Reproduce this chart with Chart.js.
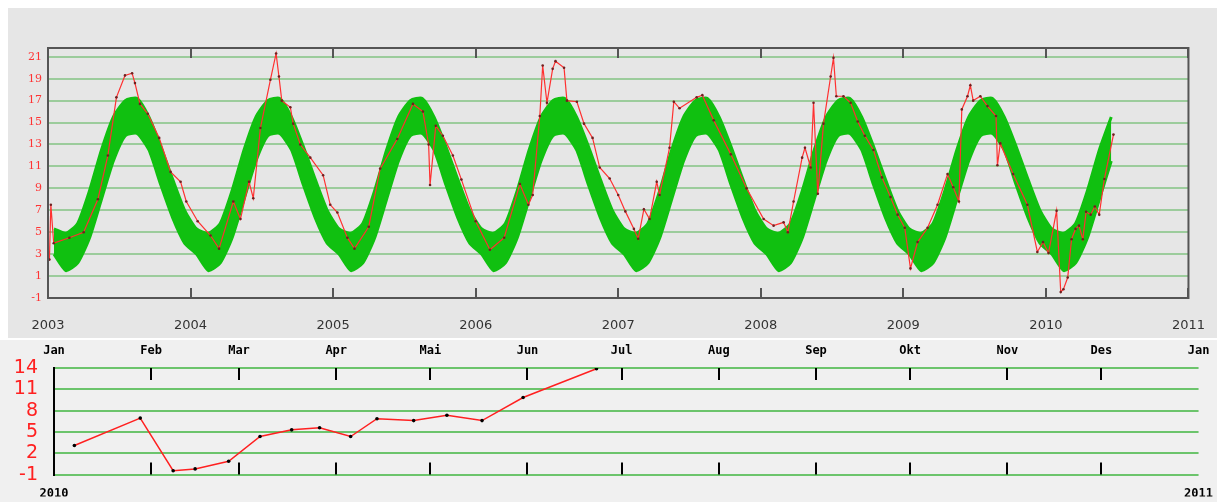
<!DOCTYPE html>
<html><head><meta charset="utf-8">
<script src="https://cdn.jsdelivr.net/npm/chart.js@4.4.0/dist/chart.umd.min.js"></script>
<style>
body{margin:0;background:#fff;width:1217px;height:502px;position:relative;overflow:hidden}
#w1{position:absolute;left:8px;top:8px;width:1209px;height:330px;background:#e6e6e6}
#w2{position:absolute;left:0;top:340px;width:1217px;height:162px;background:#f0f0f0}
</style></head><body>
<div id="w1"><canvas id="c1" width="1209" height="330"></canvas></div>
<div id="w2"><canvas id="c2" width="1217" height="162"></canvas></div>
<script>
// Climatology band (monthly, mid-month), repeated for each year 2003..mid 2010
const climUpper = [5.3, 4.9, 5.8, 8.8, 12.5, 15.5, 17.0, 17.2, 15.5, 12.8, 9.8, 7.0];
const climLower = [3.0, 1.5, 2.2, 4.5, 8.0, 11.5, 13.8, 14.0, 12.5, 9.3, 6.3, 4.0];
const bandStart = 2003, bandEnd = 2010.5;
const yearTicks = [2003,2004,2005,2006,2007,2008,2009,2010,2011];
const yTicksTop = [-1,1,3,5,7,9,11,13,15,17,19,21];

// Observed temperatures (decimal year, value)
const obsT = [2003.01,2003.02,2003.04,2003.15,2003.25,2003.35,2003.42,2003.48,2003.54,2003.59,2003.61,2003.645,2003.70,2003.78,2003.86,2003.93,2003.97,2004.05,2004.14,2004.20,
2004.30,2004.35,2004.41,2004.44,2004.49,2004.56,2004.60,2004.62,2004.64,2004.70,2004.72,2004.77,2004.84,2004.93,2004.98,2005.03,2005.10,2005.15,2005.25,2005.33,
2005.45,2005.56,2005.63,2005.67,2005.68,2005.72,2005.77,2005.84,2005.90,2006.00,2006.10,2006.20,2006.31,2006.37,2006.40,2006.45,2006.47,2006.50,2006.54,2006.56,
2006.62,2006.64,2006.71,2006.76,2006.82,2006.87,2006.94,2007.00,2007.05,2007.11,2007.14,2007.18,2007.22,2007.27,2007.29,2007.36,2007.39,2007.43,2007.55,2007.59,
2007.67,2007.79,2007.90,2008.02,2008.09,2008.16,2008.19,2008.23,2008.29,2008.31,2008.35,2008.37,2008.40,2008.44,2008.49,2008.51,2008.53,2008.58,2008.63,2008.68,
2008.73,2008.79,2008.85,2008.91,2008.96,2009.01,2009.05,2009.10,2009.17,2009.24,2009.31,2009.35,2009.39,2009.41,2009.45,2009.47,2009.49,2009.54,2009.59,2009.65,
2009.66,2009.68,2009.77,2009.87,2009.94,2009.98,2010.018,2010.075,2010.104,2010.123,2010.153,2010.18,2010.208,2010.232,2010.259,2010.282,2010.314,2010.343,2010.374,2010.41,2010.474];
const obsV = [2.5,7.5,4.0,4.5,5.0,8.0,12.0,17.3,19.3,19.5,18.6,16.7,15.8,13.6,10.5,9.6,7.8,6.0,4.7,3.5,
7.8,6.2,9.6,8.1,14.5,18.9,21.3,19.2,17.0,16.4,14.9,13.0,11.8,10.2,7.5,6.8,4.5,3.5,5.5,10.8,
13.5,16.7,16.0,13.0,9.3,14.7,13.8,12.0,9.8,6.0,3.4,4.5,9.4,7.5,8.4,15.6,20.2,16.8,19.9,20.6,
20.0,17.0,16.9,14.9,13.6,10.9,9.9,8.4,6.9,5.3,4.4,7.1,6.2,9.6,8.4,12.7,16.9,16.3,17.3,17.5,
15.2,12.1,9.0,6.2,5.6,5.9,5.0,7.8,11.8,12.7,10.9,16.8,8.5,14.9,19.2,20.9,17.4,17.4,16.8,15.1,
13.8,12.5,10.0,8.2,6.6,5.4,1.7,4.1,5.4,7.5,10.3,9.1,7.8,16.2,17.4,18.4,17.0,17.4,16.5,15.6,
11.1,13.1,10.3,7.5,3.2,4.1,3.1,6.95,-0.46,-0.2,0.87,4.36,5.3,5.6,4.36,6.86,6.6,7.35,6.6,9.85,13.9];

// 2010 detail (day of year, value)
const day2010 = [6.5,27.5,38,45,55.7,65.7,75.8,84.7,94.6,103,114.7,125.3,136.5,149.6,173];
const val2010 = [3.1,6.95,-0.46,-0.2,0.87,4.36,5.3,5.6,4.36,6.86,6.6,7.35,6.6,9.85,13.9];
const monthDays = [0,31,59,90,120,151,181,212,243,273,304,334,365];
const monthLabels = ['Jan','Feb','Mar','Apr','Mai','Jun','Jul','Aug','Sep','Okt','Nov','Des','Jan'];
const yTicksBottom = [-1,2,5,8,11,14];
const yearLabels2010 = ['2010','2011'];

const band = {up:[],lo:[]};
for (let y = bandStart; y < 2011; y++) {
  for (let m = 0; m < 12; m++) {
    const t = y + (m + 0.5) / 12;
    if (t > bandEnd) break;
    band.up.push({x:t, y:climUpper[m]});
    band.lo.push({x:t, y:climLower[m]});
  }
}
const obs = obsT.map((t,i)=>({x:t,y:obsV[i]}));

function tickPlugin(id, positions, len, color){
  return {id, afterDatasetsDraw(chart){
    const {ctx, chartArea:a, scales:{x}} = chart;
    ctx.save(); ctx.strokeStyle=color; ctx.lineWidth=2;
    positions.forEach(p=>{ const px=Math.round(x.getPixelForValue(p));
      ctx.beginPath(); ctx.moveTo(px,a.top); ctx.lineTo(px,a.top+len);
      ctx.moveTo(px,a.bottom); ctx.lineTo(px,a.bottom-len); ctx.stroke(); });
    ctx.restore();
  }};
}
const borderPlugin = {id:'bd', afterDatasetsDraw(chart){
  const {ctx, chartArea:a} = chart; ctx.save(); ctx.strokeStyle='#555'; ctx.lineWidth=2;
  ctx.strokeRect(a.left,a.top,a.right-a.left,a.bottom-a.top); ctx.restore(); }};

new Chart(document.getElementById('c1'), {
  type:'line',
  data:{datasets:[
    {data:obs, borderColor:'#ff3030', borderWidth:1.2, pointRadius:1.3, pointBackgroundColor:'#702020', pointBorderWidth:0, fill:false, order:0, tension:0},
    {data:band.lo, borderColor:'#10c010', borderWidth:3, pointRadius:0, fill:false, order:2, tension:0.2},
    {data:band.up, borderColor:'#10c010', borderWidth:3, pointRadius:0, backgroundColor:'#10c010', fill:'-1', order:1, tension:0.2}
  ]},
  options:{responsive:false, animation:false, events:[],
    layout:{padding:{left:0,right:22,top:40,bottom:0}},
    plugins:{legend:{display:false}, tooltip:{enabled:false}},
    scales:{
      x:{type:'linear', min:2003, max:2011, afterBuildTicks:s=>{s.ticks=yearTicks.map(v=>({value:v}));},
        afterFit:s=>{s.height=40;},
        grid:{display:false}, border:{display:false},
        ticks:{color:'#333', font:{family:'DejaVu Sans', size:13}, padding:12, maxRotation:0, autoSkip:false, callback:v=>String(v)}},
      y:{min:-1, max:21.8, afterBuildTicks:s=>{s.ticks=yTicksTop.map(v=>({value:v}));},
        afterFit:s=>{s.width=40;},
        grid:{color:'#9ccc9c', lineWidth:2, drawTicks:false}, border:{display:false},
        ticks:{color:'#ff3333', font:{family:'DejaVu Serif', size:11}, padding:6, autoSkip:false}}
    }},
  plugins:[tickPlugin('t1', yearTicks, 10, '#555'), borderPlugin]
});

new Chart(document.getElementById('c2'), {
  type:'line',
  data:{datasets:[
    {data:day2010.map((d,i)=>({x:d,y:val2010[i]})), borderColor:'#ff2020', borderWidth:1.5, pointRadius:1.8, pointBackgroundColor:'#000', pointBorderWidth:0, tension:0, xAxisID:'x'}
  ]},
  options:{responsive:false, animation:false, events:[],
    layout:{padding:{left:0,right:13,top:0,bottom:0}},
    plugins:{legend:{display:false}, tooltip:{enabled:false}},
    scales:{
      x:{type:'linear', position:'top', min:0, max:365, afterBuildTicks:s=>{s.ticks=monthDays.map(v=>({value:v}));},
        afterFit:s=>{s.height=28;},
        grid:{display:false}, border:{display:false},
        ticks:{color:'#000', font:{family:'DejaVu Sans Mono', size:12, weight:'bold'}, padding:2, maxRotation:0, autoSkip:false,
          callback:(v)=>monthLabels[monthDays.indexOf(v)]}},
      x2:{type:'linear', position:'bottom', min:0, max:365, afterBuildTicks:s=>{s.ticks=[{value:0},{value:365}];},
        afterFit:s=>{s.height=22;},
        grid:{display:false}, border:{display:false},
        ticks:{color:'#000', font:{family:'DejaVu Sans Mono', size:12, weight:'bold'}, padding:4, maxRotation:0, autoSkip:false,
          callback:(v)=>yearLabels2010[v===0?0:1]}},
      y:{min:-1, max:14, afterBuildTicks:s=>{s.ticks=yTicksBottom.map(v=>({value:v}));},
        afterFit:s=>{s.width=54;},
        grid:{color:'#6cc46c', lineWidth:2, drawTicks:false}, border:{display:true, color:'#000', width:2},
        ticks:{color:'#ff2020', font:{family:'DejaVu Sans', size:19}, padding:16, autoSkip:false}}
    }},
  plugins:[tickPlugin('t2', monthDays.slice(1,12), 12, '#000')]
});
</script>
</body></html>
